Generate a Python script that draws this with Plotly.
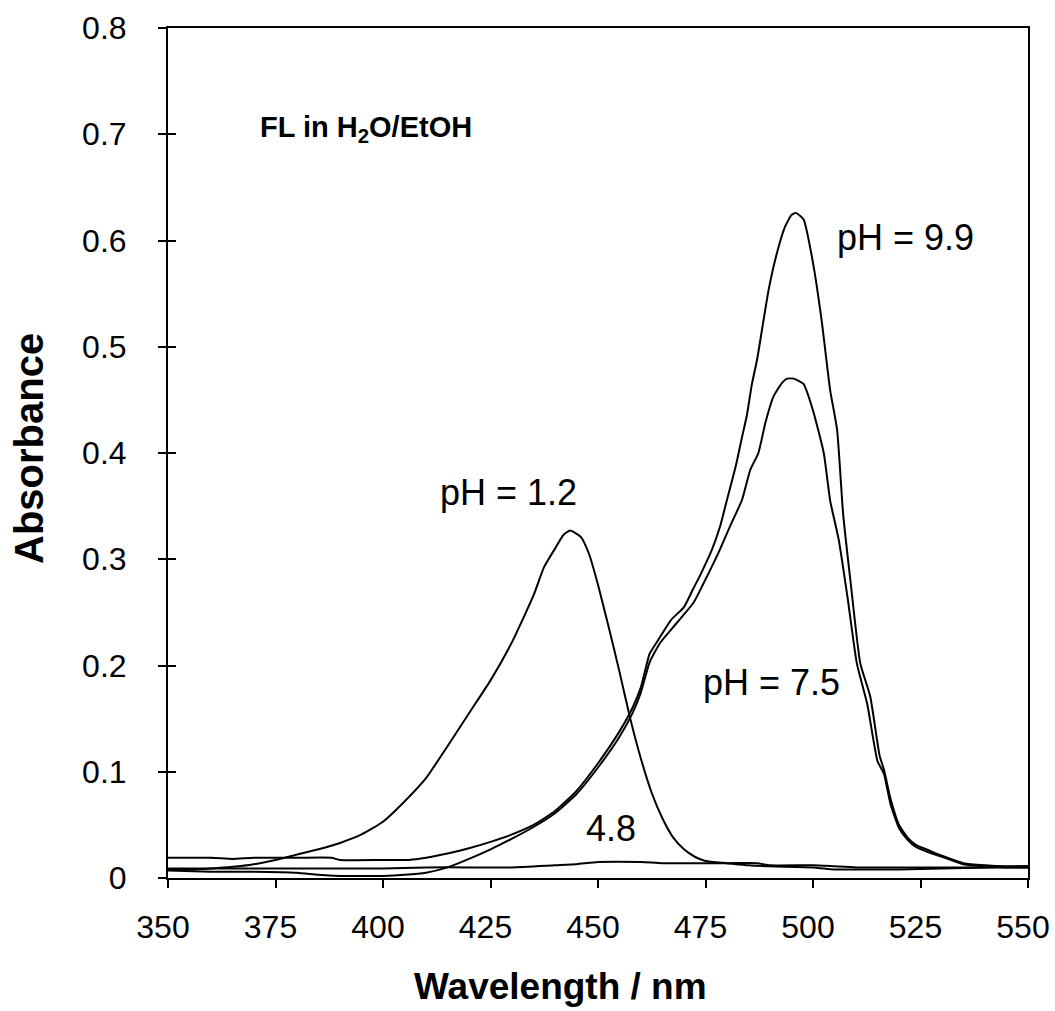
import plotly.graph_objects as go

# ---- data ----
wl_12 = [350, 355, 360, 365, 370, 375, 380, 385, 390, 395, 400, 405, 410, 415, 420, 425, 430, 435,
         437.5, 440, 442, 443.5, 446, 448, 450, 452.5, 455, 457.5, 460, 462.5, 465, 467.5, 470, 472.5,
         475, 480, 485, 490, 500, 505, 510, 520, 530, 540, 550]
ab_12 = [0.008, 0.008, 0.009, 0.0105, 0.013, 0.017, 0.022, 0.027, 0.033, 0.041, 0.053, 0.072, 0.094,
         0.124, 0.155, 0.186, 0.222, 0.266, 0.293, 0.310, 0.323, 0.327, 0.321, 0.304, 0.276, 0.236,
         0.194, 0.150, 0.112, 0.080, 0.056, 0.038, 0.027, 0.020, 0.016, 0.014, 0.012, 0.011, 0.010,
         0.008, 0.008, 0.008, 0.009, 0.010, 0.011]

wl_48 = [350, 360, 370, 380, 390, 400, 410, 420, 430, 440, 445, 450, 460, 465, 480, 487, 490, 500,
         505, 510, 520, 530, 540, 550]
ab_48 = [0.009, 0.009, 0.009, 0.009, 0.009, 0.009, 0.010, 0.010, 0.010, 0.012, 0.013, 0.015, 0.015,
         0.014, 0.014, 0.014, 0.012, 0.012, 0.011, 0.010, 0.010, 0.010, 0.010, 0.010]

wl_75 = [350, 360, 370, 380, 385, 390, 395, 400, 405, 410, 415, 420, 425, 430, 435, 440, 445, 450,
         455, 458, 460, 462, 464.4, 468.3, 472.2, 474.5, 478, 480.7, 483.5, 485.4, 487.3, 488.9, 490.8,
         492.8, 494, 495.5, 497.8, 500, 502.5, 504, 506, 508, 510.2, 512.6, 515, 516.5, 518, 520, 522,
         524, 527, 530, 535, 540, 545, 550]
ab_75 = [0.007, 0.006, 0.006, 0.005, 0.003, 0.002, 0.002, 0.002, 0.003, 0.005, 0.010, 0.018, 0.027,
         0.037, 0.048, 0.061, 0.079, 0.104, 0.133, 0.155, 0.175, 0.203, 0.221, 0.240, 0.259, 0.277,
         0.306, 0.331, 0.356, 0.384, 0.400, 0.428, 0.453, 0.466, 0.470, 0.470, 0.465, 0.440, 0.400,
         0.355, 0.318, 0.265, 0.202, 0.164, 0.110, 0.098, 0.070, 0.047, 0.036, 0.029, 0.024, 0.020,
         0.013, 0.011, 0.010, 0.010]

wl_99 = [350, 360, 365, 370, 380, 388, 390, 400, 406, 410, 415, 420, 425, 430, 435, 440, 445, 450,
         455, 458, 460, 462, 464, 467, 470, 472, 474, 476.5, 478.4, 480, 482, 483.5, 484.6, 485.8, 487,
         488.5, 489.7, 491.6, 493.5, 495, 496, 497.8, 500, 502, 504, 505.6, 507, 508.7, 511, 513.3,
         515.5, 516.5, 518, 520, 522, 524, 527, 530, 535, 540, 545, 550]
ab_99 = [0.019, 0.019, 0.018, 0.019, 0.019, 0.019, 0.017, 0.017, 0.017, 0.019, 0.023, 0.028, 0.034,
         0.041, 0.050, 0.063, 0.082, 0.108, 0.138, 0.160, 0.180, 0.211, 0.224, 0.243, 0.255, 0.271,
         0.287, 0.309, 0.331, 0.356, 0.387, 0.415, 0.435, 0.465, 0.488, 0.525, 0.554, 0.588, 0.613,
         0.624, 0.626, 0.620, 0.579, 0.525, 0.459, 0.422, 0.343, 0.280, 0.202, 0.171, 0.115, 0.102,
         0.075, 0.050, 0.038, 0.031, 0.026, 0.021, 0.014, 0.012, 0.011, 0.011]

series = [("pH 1.2", wl_12, ab_12), ("pH 4.8", wl_48, ab_48),
          ("pH 7.5", wl_75, ab_75), ("pH 9.9", wl_99, ab_99)]

x_ticks = [350, 375, 400, 425, 450, 475, 500, 525, 550]
y_ticks = [0, 0.1, 0.2, 0.3, 0.4, 0.5, 0.6, 0.7, 0.8]
y_tick_text = ["0", "0.1", "0.2", "0.3", "0.4", "0.5", "0.6", "0.7", "0.8"]

labels = [  # text, x (nm), y (absorbance)
    ("pH = 1.2", 429.2, 0.363),
    ("pH = 9.9", 521.4, 0.603),
    ("pH = 7.5", 490.3, 0.184),
    ("4.8", 453, 0.047),
]
inset_title = ("<b>FL in H<sub>2</sub>O/EtOH</b>", 396.0, 0.705)

FONT = "Liberation Sans, Arial, sans-serif"
TICK_SIZE = 32
LABEL_SIZE = 36
TITLE_SIZE = 37

fig = go.Figure()
for name, xs, ys in series:
    fig.add_trace(go.Scatter(x=xs, y=ys, mode="lines", name=name,
                             line=dict(color="black", width=2, shape="spline", smoothing=0.5),
                             showlegend=False))

for text, xv, yv in labels:
    fig.add_annotation(x=xv, y=yv, text=text, showarrow=False,
                       font=dict(family=FONT, size=LABEL_SIZE, color="black"))
fig.add_annotation(x=inset_title[1], y=inset_title[2], text=inset_title[0], showarrow=False,
                   font=dict(family=FONT, size=29, color="black"))

# axis titles
fig.add_annotation(text="<b>Wavelength / nm</b>", xref="paper", yref="paper", x=0.456, y=0.0,
                   yshift=-108, showarrow=False, xanchor="center", yanchor="middle",
                   font=dict(family=FONT, size=TITLE_SIZE, color="black"))
fig.add_annotation(text="<b>Absorbance</b>", xref="paper", yref="paper", x=0, y=0.5,
                   xshift=-139, yshift=4, textangle=-90, showarrow=False, xanchor="center",
                   yanchor="middle", font=dict(family=FONT, size=40, color="black"))

fig.update_layout(
    width=1055, height=1011,
    margin=dict(l=168, r=27, t=28, b=133, autoexpand=False),
    paper_bgcolor="white", plot_bgcolor="white",
    font=dict(family=FONT, color="black", size=TICK_SIZE),
    xaxis=dict(range=[350, 550], tickvals=x_ticks, ticks="outside", ticklen=8, tickwidth=2,
               tickcolor="black", showline=True, linecolor="black", linewidth=2, mirror=True,
               showgrid=False, zeroline=False, tickfont=dict(size=TICK_SIZE),
               ticklabelstandoff=12, ticklabelshift=-5, automargin=False),
    yaxis=dict(range=[0, 0.8], tickvals=y_ticks, ticktext=y_tick_text, ticks="outside",
               ticklen=8, tickwidth=2, tickcolor="black", showline=True, linecolor="black",
               linewidth=2, mirror=True, showgrid=False, zeroline=False,
               tickfont=dict(size=TICK_SIZE), ticklabelstandoff=25, automargin=False),
    yaxis2=dict(range=[0, 0.8], tickvals=y_ticks, ticks="inside", ticklen=8, tickwidth=2,
                tickcolor="black", overlaying="y", side="left", showticklabels=False,
                showgrid=False, zeroline=False, showline=False, automargin=False),
)
fig.add_trace(go.Scatter(x=[350], y=[None], yaxis="y2", mode="lines", showlegend=False,
                         hoverinfo="skip"))

fig.write_html("out.html")
